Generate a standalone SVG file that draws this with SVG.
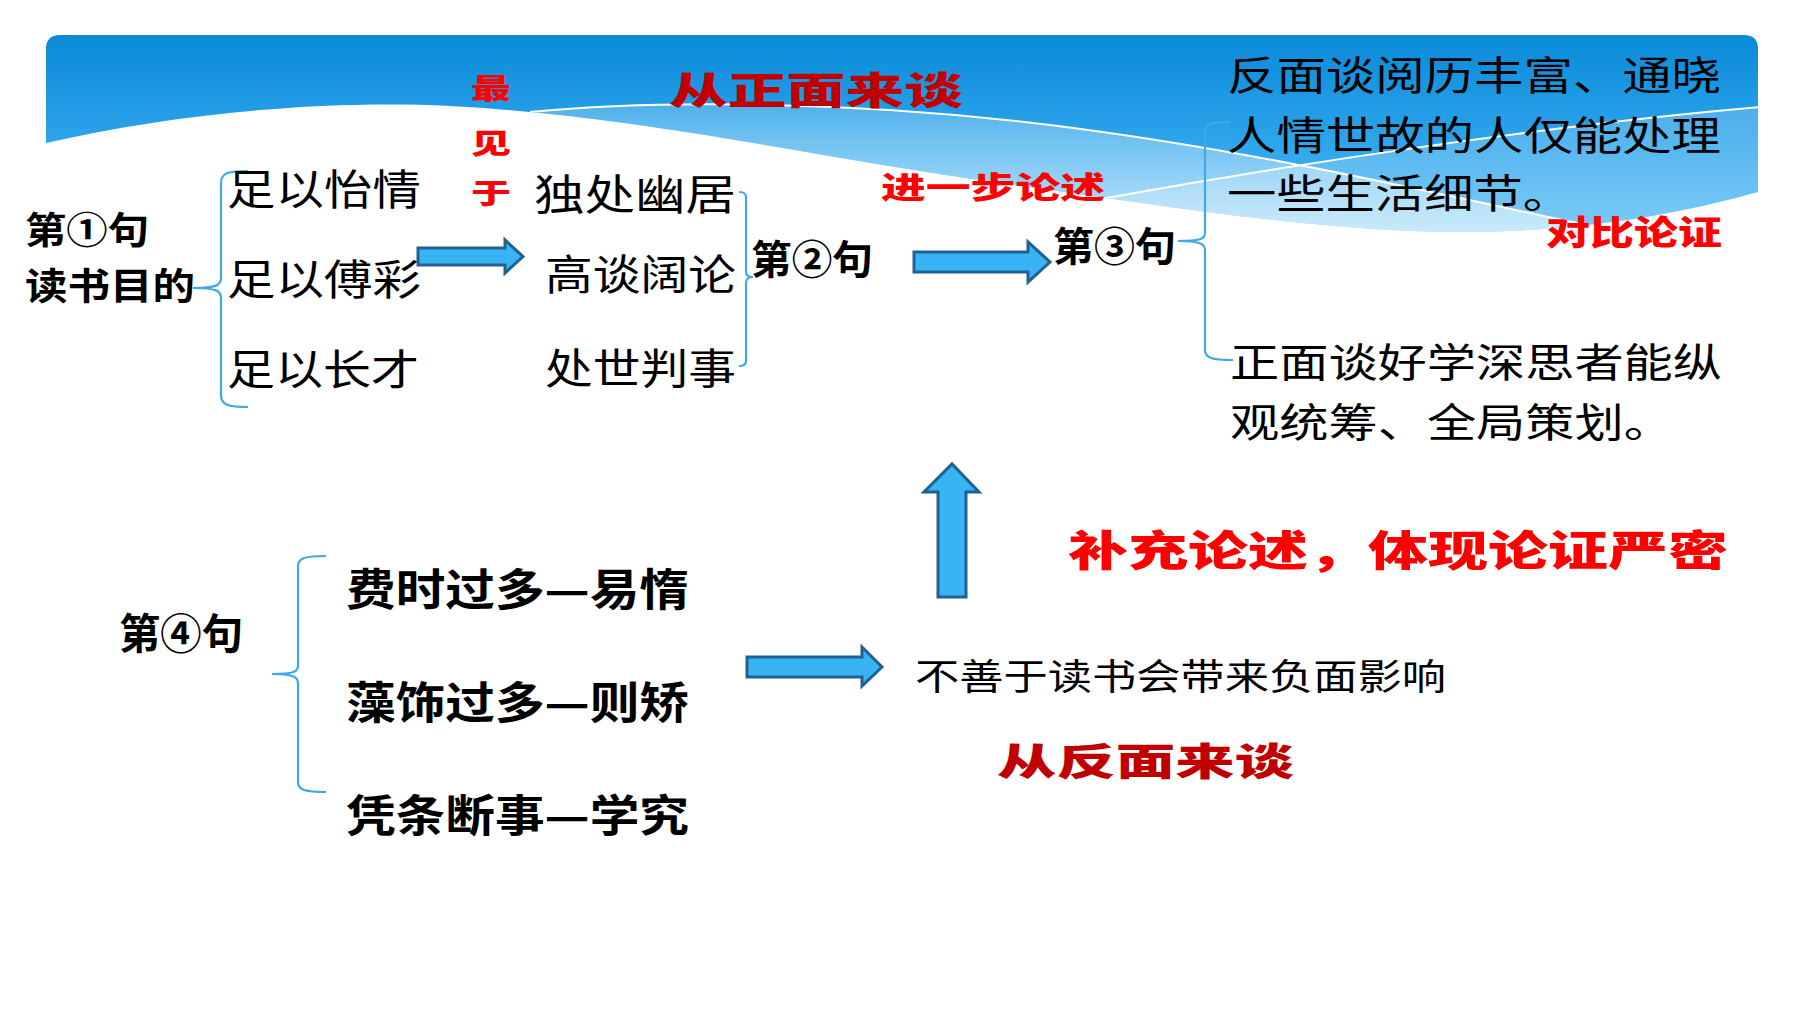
<svg xmlns="http://www.w3.org/2000/svg" width="1800" height="1012" viewBox="0 0 1800 1012">
<style>
.k{font-family:"Noto Sans CJK SC","Noto Sans",sans-serif;fill:#000;dominant-baseline:central;font-weight:400}
.b{font-weight:700}
.r{font-family:"Noto Sans CJK SC","Noto Sans",sans-serif;font-weight:900;fill:#FF0000;dominant-baseline:central}
.dr{fill:#C00000}
.arrow{fill:#38B4F4;stroke:#1F628F;stroke-width:3;stroke-linejoin:miter}
.br{fill:none;stroke:#41A8E8;stroke-width:2.2}
.wl{fill:none;stroke:#FFFFFF;stroke-width:2}
</style>
<defs>
<linearGradient id="bg" x1="0" y1="35" x2="0" y2="235" gradientUnits="userSpaceOnUse">
<stop offset="0" stop-color="#0A8AD8"/>
<stop offset="0.55" stop-color="#2EA5EC"/>
<stop offset="1" stop-color="#5CC0F4"/>
</linearGradient>
<linearGradient id="lg" x1="0" y1="100" x2="0" y2="235" gradientUnits="userSpaceOnUse">
<stop offset="0" stop-color="#FFFFFF" stop-opacity="0.2"/>
<stop offset="1" stop-color="#FFFFFF" stop-opacity="0.6"/>
</linearGradient>
<clipPath id="bc">
<path d="M46,49 Q46,35 60,35 L1744,35 Q1758,35 1758,49 L1758,192 C1700,208 1600,232 1460,232 C1320,232 1160,205 1000,183 C820,158 640,116 450,106 C330,100 180,112 46,143 Z"/>
</clipPath>
</defs>
<rect width="1800" height="1012" fill="#FFFFFF"/>
<g id="banner" clip-path="url(#bc)">
<rect x="40" y="30" width="1730" height="210" fill="url(#bg)"/>
<path d="M530,112 C650,100 850,100 1050,125 C1250,150 1420,190 1600,228 L1800,240 L1800,260 L400,260 Z" fill="url(#lg)"/>
<path d="M1095,200 C1300,163 1550,125 1760,107 L1800,107 L1800,260 L1000,260 Z" fill="#FFFFFF" fill-opacity="0.2"/>
<path class="wl" d="M530,112 C650,100 850,100 1050,125 C1250,150 1420,190 1600,228"/>
<path class="wl" d="M1095,200 C1300,163 1550,125 1760,107"/>
</g>
<g id="connectors">
<path class="br" d="M248,171 C228,171 221,173 221,183 L221,278 C221,285 217,288 193,288 C217,288 221,291 221,298 L221,395 C221,405 228,407 248,407"/>
<path class="br" d="M739,192 C744,192 746,193 746,197 L746,272 C746,275 748,277 753,277 C748,277 746,279 746,283 L746,361 C746,364 744,366 739,366"/>
<path class="br" d="M1230,122 C1210,122 1205,124 1205,132 L1205,233 C1205,239 1200,241 1178,241 C1200,241 1205,244 1205,250 L1205,350 C1205,358 1212,360 1233,360"/>
<path class="br" d="M326,556 C305,556 298,558 298,566 L298,666 C298,672 293,674 272,674 C293,674 298,677 298,683 L298,782 C298,790 305,792 326,792"/>
<polygon class="arrow" points="418,248 505,248 505,240 523,256.5 505,273 505,265 418,265"/>
<polygon class="arrow" points="914,252 1028,252 1028,242 1050,262 1028,282 1028,272 914,272"/>
<polygon class="arrow" points="938,597 938,492 924,492 952,464 979,492 966,492 966,597"/>
<polygon class="arrow" points="747,657 862,657 862,647 882,667 862,686 862,677 747,677"/>
</g>
<g id="s1">
<text class="k b" x="25" y="228" font-size="37" textLength="124" lengthAdjust="spacingAndGlyphs">第①句</text>
<text class="k b" x="25" y="284" font-size="37" textLength="170" lengthAdjust="spacingAndGlyphs">读书目的</text>
</g>
<g id="purposes">
<text class="k" x="227" y="186" font-size="42" textLength="194" lengthAdjust="spacingAndGlyphs">足以怡情</text>
<text class="k" x="227" y="276" font-size="42" textLength="194" lengthAdjust="spacingAndGlyphs">足以傅彩</text>
<text class="k" x="227" y="366" font-size="42" textLength="192" lengthAdjust="spacingAndGlyphs">足以长才</text>
</g>
<g id="zuijianyu">
<text class="r" x="471" y="87" font-size="28" textLength="40" lengthAdjust="spacingAndGlyphs">最</text>
<text class="r" x="471" y="142" font-size="28" textLength="40" lengthAdjust="spacingAndGlyphs">见</text>
<text class="r" x="471" y="192" font-size="28" textLength="40" lengthAdjust="spacingAndGlyphs">于</text>
</g>
<g id="uses">
<text class="k" x="534" y="191" font-size="42" textLength="202" lengthAdjust="spacingAndGlyphs">独处幽居</text>
<text class="k" x="545" y="271" font-size="42" textLength="191" lengthAdjust="spacingAndGlyphs">高谈阔论</text>
<text class="k" x="545" y="365" font-size="42" textLength="191" lengthAdjust="spacingAndGlyphs">处世判事</text>
</g>
<g id="positive-label">
<text class="r dr" x="669" y="87" font-size="38" textLength="294" lengthAdjust="spacingAndGlyphs">从正面来谈</text>
</g>
<g id="further-label">
<text class="r" x="881" y="185" font-size="30" textLength="224" lengthAdjust="spacingAndGlyphs">进一步论述</text>
</g>
<g id="s2">
<text class="k b" x="751" y="257" font-size="40" textLength="122" lengthAdjust="spacingAndGlyphs">第②句</text>
</g>
<g id="s3">
<text class="k b" x="1053" y="244" font-size="40" textLength="123" lengthAdjust="spacingAndGlyphs">第③句</text>
</g>
<g id="s3-negative">
<text class="k" x="1227" y="73" font-size="40" textLength="494" lengthAdjust="spacingAndGlyphs">反面谈阅历丰富、通晓</text>
<text class="k" x="1227" y="133" font-size="40" textLength="494" lengthAdjust="spacingAndGlyphs">人情世故的人仅能处理</text>
<text class="k" x="1227" y="191" font-size="40" textLength="345" lengthAdjust="spacingAndGlyphs">一些生活细节。</text>
</g>
<g id="contrast-label">
<text class="r" x="1546" y="230" font-size="34" textLength="176" lengthAdjust="spacingAndGlyphs" font-weight="700">对比论证</text>
</g>
<g id="s3-positive">
<text class="k" x="1230" y="360" font-size="40" textLength="492" lengthAdjust="spacingAndGlyphs">正面谈好学深思者能纵</text>
<text class="k" x="1230" y="420" font-size="40" textLength="443" lengthAdjust="spacingAndGlyphs">观统筹、全局策划。</text>
</g>
<g id="supplement-label">
<text class="r" x="1068" y="547" font-size="42" textLength="660" lengthAdjust="spacingAndGlyphs">补充论述，体现论证严密</text>
</g>
<g id="s4">
<text class="k b" x="119" y="630" font-size="42" textLength="124" lengthAdjust="spacingAndGlyphs">第④句</text>
</g>
<g id="s4-items">
<text class="k b" x="346" y="587" font-size="44" textLength="343" lengthAdjust="spacingAndGlyphs">费时过多—易惰</text>
<text class="k b" x="346" y="700" font-size="44" textLength="343" lengthAdjust="spacingAndGlyphs">藻饰过多—则矫</text>
<text class="k b" x="346" y="813" font-size="44" textLength="343" lengthAdjust="spacingAndGlyphs">凭条断事—学究</text>
</g>
<g id="negative-effect">
<text class="k" x="915" y="674" font-size="36" textLength="531" lengthAdjust="spacingAndGlyphs">不善于读书会带来负面影响</text>
</g>
<g id="negative-label">
<text class="r dr" x="997" y="758" font-size="38" textLength="297" lengthAdjust="spacingAndGlyphs">从反面来谈</text>
</g>
</svg>
